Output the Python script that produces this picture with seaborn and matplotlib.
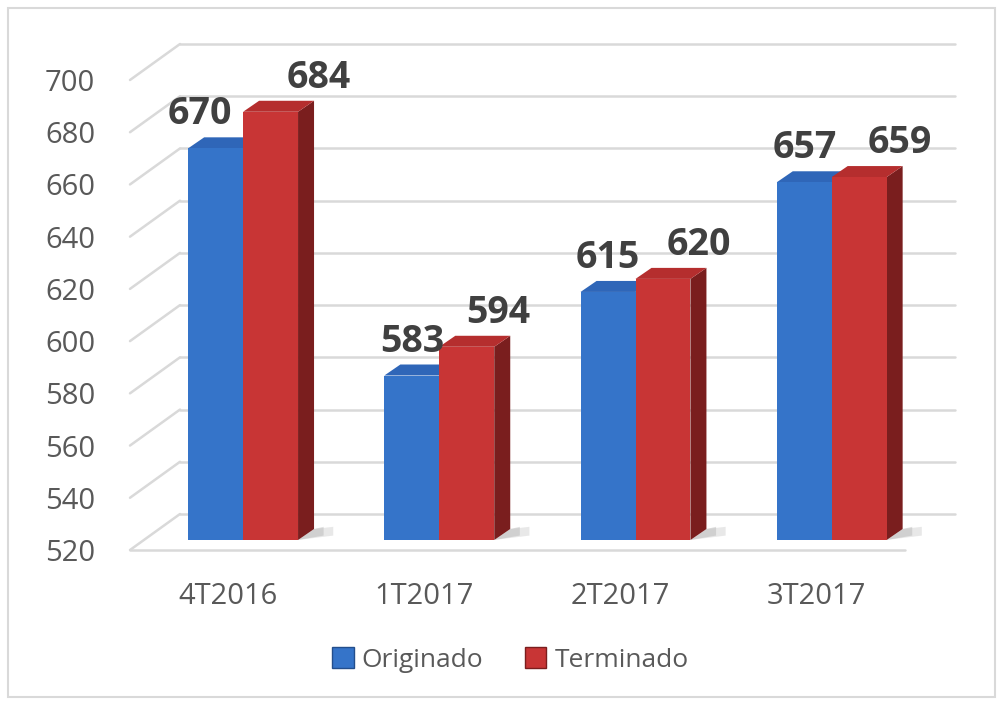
import matplotlib
matplotlib.use("Agg")
import matplotlib.pyplot as plt
import seaborn as sns
import pandas as pd
from matplotlib.patches import Polygon, Patch, Rectangle

categories = ["4T2016", "1T2017", "2T2017", "3T2017"]
series_names = ["Originado", "Terminado"]
originado = [670, 583, 615, 657]
terminado = [684, 594, 620, 659]
yticks = [520, 540, 560, 580, 600, 620, 640, 660, 680, 700]

front_colors = ["#3574C9", "#C83535"]
side_colors = ["#234E8C", "#7A1E1E"]
top_colors = ["#2F66B8", "#B52E2E"]

# label horizontal nudges in pixels (series x category)
label_dx = [[-16, 0, 0, 1], [48, 31, 36, 41]]

df = pd.DataFrame({
    "cat": categories * 2,
    "serie": [series_names[0]] * 4 + [series_names[1]] * 4,
    "val": originado + terminado,
})

sns.set_theme(style="white")
plt.rcParams["font.family"] = ["Open Sans", "DejaVu Sans"]

W, H = 1001, 705
fig = plt.figure(figsize=(W / 100, H / 100), dpi=100)
ax = fig.add_axes([130 / W, 1 - 550 / H, 775 / W, 470 / H])
bx = fig.add_axes([145 / W, 1 - 540 / H, 775 / W, 470 / H])
bx.patch.set_alpha(0)

sns.barplot(data=df, x="cat", y="val", hue="serie", order=categories,
            hue_order=series_names, palette=front_colors, width=0.56,
            saturation=1, ax=bx, zorder=3, legend=False, errorbar=None,
            linewidth=0, edgecolor="none")

ymin, ymax = yticks[0], yticks[-1]
for a in (ax, bx):
    a.set_ylim(ymin, ymax)
    a.set_xlim(-0.5, 3.45)
    for s in a.spines.values():
        s.set_visible(False)
    a.set_xlabel("")
    a.set_ylabel("")
bx.set_xticks([])
bx.set_yticks([])

ax.set_xticks(range(len(categories)))
ax.set_xticklabels(categories)
ax.set_yticks(yticks)
ax.tick_params(axis="both", length=0, labelsize=21, labelcolor="#595959")
ax.tick_params(axis="y", pad=25)
ax.tick_params(axis="x", pad=23)

# pixel -> data conversion
bbox = ax.get_window_extent()
px_x = (ax.get_xlim()[1] - ax.get_xlim()[0]) / bbox.width
px_y = (ymax - ymin) / bbox.height

# back wall grid
bdx, bdy = 50 * px_x, 36 * px_y
x0, x1 = ax.get_xlim()
grid_c = "#D9D9D9"
for v in yticks:
    ax.plot([x0 + bdx, x1 + bdx], [v + bdy, v + bdy], color=grid_c, lw=1.8,
            clip_on=False, zorder=0)
    ax.plot([x0, x0 + bdx], [v, v + bdy], color=grid_c, lw=1.8,
            clip_on=False, zorder=0)
# floor front line
ax.plot([x0, x1], [ymin, ymin], color=grid_c, lw=1.8, clip_on=False, zorder=0)

# 3D faces for bars
ddx, ddy = 16 * px_x, 11 * px_y
bars = [p for p in bx.patches if isinstance(p, Rectangle) and p.get_width() > 0]
bars = sorted(bars, key=lambda p: p.get_x())
for p in bars:
    fc = p.get_facecolor()
    idx = 0 if fc[2] > fc[0] else 1
    x = p.get_x()
    w = p.get_width()
    h = p.get_height()
    ci = int(round(x + w / 2 + (0.14 if idx == 0 else -0.14)))
    # soft shadow on floor
    for k, al in ((2.2, 0.25), (1.6, 0.35)):
        shadow = Polygon([(x + w, ymin), (x + w + k * ddx, ymin + ddy * 0.4),
                          (x + w + k * ddx, ymin + ddy * 1.2),
                          (x + w + ddx, ymin + ddy)],
                         closed=True, facecolor="#A6A6A6", edgecolor="none",
                         alpha=al, zorder=1, clip_on=False)
        bx.add_patch(shadow)
    side = Polygon([(x + w, ymin), (x + w + ddx, ymin + ddy),
                    (x + w + ddx, h + ddy), (x + w, h)],
                   closed=True, facecolor=side_colors[idx], edgecolor="none",
                   zorder=2, clip_on=False)
    top = Polygon([(x, h), (x + ddx, h + ddy), (x + w + ddx, h + ddy),
                   (x + w, h)], closed=True, facecolor=top_colors[idx],
                  edgecolor="none", zorder=2, clip_on=False)
    bx.add_patch(side)
    bx.add_patch(top)
    bx.text(x + w / 2 + label_dx[idx][ci] * px_x, h + ddy + 4 * px_y,
            f"{int(round(h))}", ha="center", va="bottom", fontsize=27,
            fontweight="bold", color="#404040", zorder=5, clip_on=False)

# outer border
fig.patches.append(Rectangle((8 / W, 8 / H), 987 / W, 689 / H,
                             transform=fig.transFigure, fill=False,
                             edgecolor="#D9D9D9", lw=1.5))

handles = [Patch(facecolor=front_colors[0], edgecolor=side_colors[0]),
           Patch(facecolor=front_colors[1], edgecolor=side_colors[1])]
fig.legend(handles, series_names, loc="center", bbox_to_anchor=(0.51, 1 - 660 / H),
           ncol=2, frameon=False, fontsize=19, handlelength=0.8,
           handleheight=0.8, handletextpad=0.3, columnspacing=1.6,
           labelcolor="#595959")

fig.savefig("out.png", dpi=100)
